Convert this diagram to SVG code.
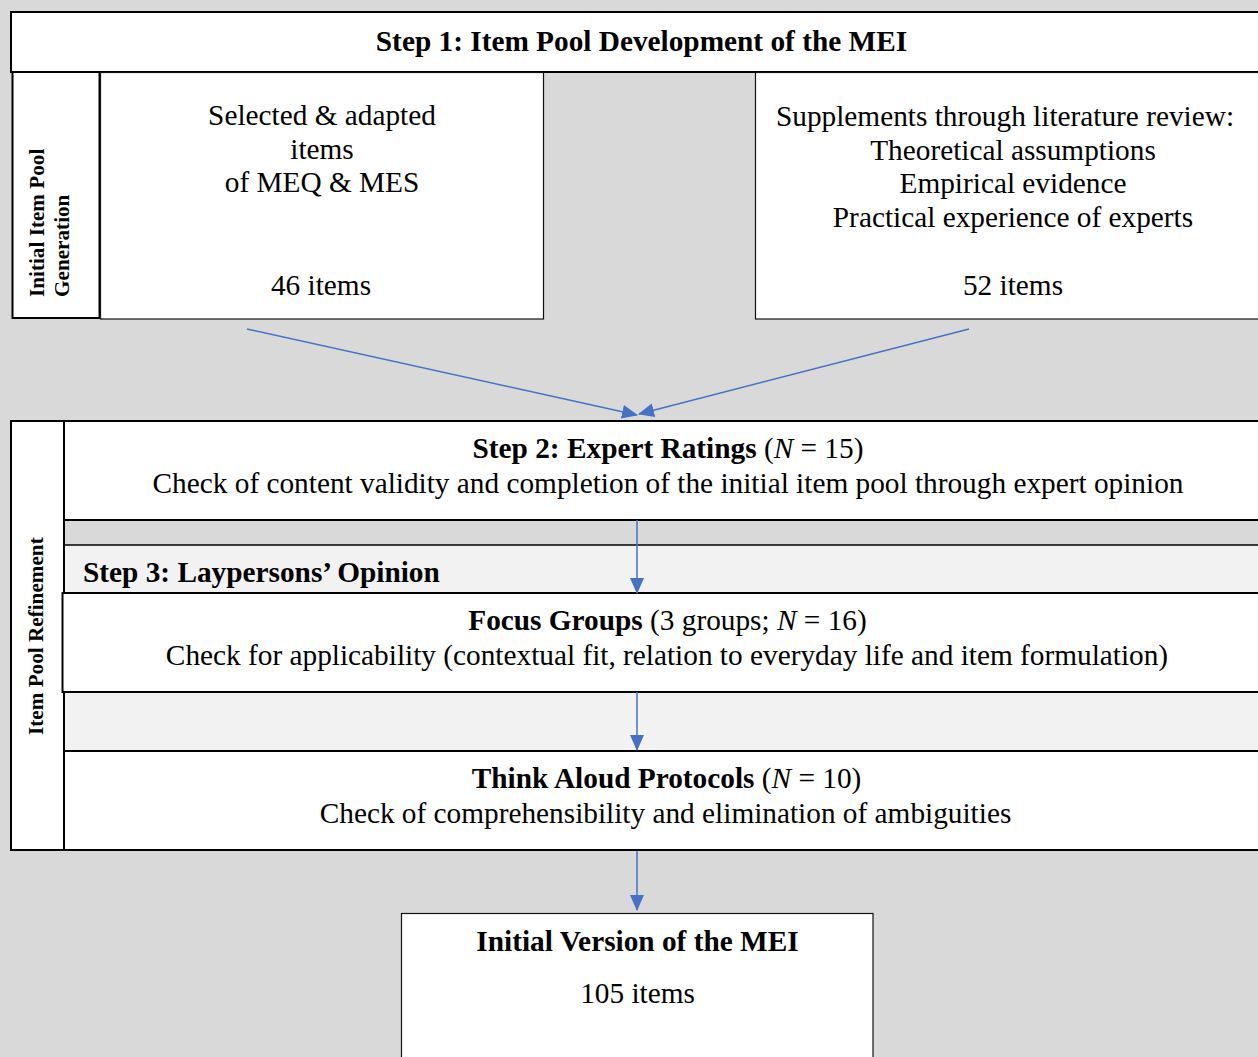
<svg xmlns="http://www.w3.org/2000/svg" width="1258" height="1057" viewBox="0 0 1258 1057">
<style>
text{font-family:"Liberation Serif","Times New Roman",serif;fill:#000}
.t{font-size:29.3px}
.c{text-anchor:middle}
.b{font-weight:bold}
.lab{font-size:21.2px;font-weight:bold}
.box{fill:#fff;stroke:#000;stroke-width:2}
.thin{fill:#fff;stroke:#111;stroke-width:1.2}
.ar{stroke:#4472c4;stroke-width:1.5;fill:none;marker-end:url(#ah)}
</style>
<defs>
<marker id="ah" markerUnits="userSpaceOnUse" markerWidth="16" markerHeight="16" viewBox="0 0 16 14" refX="15" refY="7" orient="auto">
<path d="M0,0 L16,7 L0,14 Z" fill="#4472c4"/>
</marker>
</defs>
<rect width="1258" height="1057" fill="#d9d9d9"/>

<g id="step1">
<rect class="box" x="11" y="12" width="1262" height="60"/>
<text class="t b c" x="641.5" y="51">Step 1: Item Pool Development of the MEI</text>
</g>

<g id="label-generation">
<rect class="box" x="12.5" y="72" width="87" height="246"/>
<text class="lab" transform="translate(44,297) rotate(-90)">Initial Item Pool</text>
<text class="lab" transform="translate(69,297) rotate(-90)">Generation</text>
</g>

<g id="box-meq">
<rect class="thin" x="100.5" y="72.5" width="443" height="246.5"/>
<text class="t c" x="322" y="125">Selected &amp; adapted</text>
<text class="t c" x="322" y="159">items</text>
<text class="t c" x="322" y="192">of MEQ &amp; MES</text>
<text class="t c" x="321" y="295">46 items</text>
</g>

<g id="box-literature">
<rect class="thin" x="755.5" y="72.5" width="520" height="246.5"/>
<text class="t c" x="1005" y="126">Supplements through literature review:</text>
<text class="t c" x="1013" y="160">Theoretical assumptions</text>
<text class="t c" x="1013" y="193">Empirical evidence</text>
<text class="t c" x="1013" y="227">Practical experience of experts</text>
<text class="t c" x="1013" y="295">52 items</text>
</g>

<g id="refinement">
<rect class="box" x="11" y="421" width="1262" height="429"/>
<rect x="64" y="520" width="1210" height="25" fill="#d9d9d9"/>
<rect x="64" y="545" width="1210" height="206" fill="#f2f2f2"/>
<line x1="64" y1="421" x2="64" y2="850" stroke="#000" stroke-width="2"/>
<line x1="64" y1="520" x2="1258" y2="520" stroke="#000" stroke-width="2"/>
<line x1="64" y1="545" x2="1258" y2="545" stroke="#000" stroke-width="1.5"/>
<line x1="64" y1="751" x2="1258" y2="751" stroke="#000" stroke-width="2"/>
<text class="lab" transform="translate(43,735) rotate(-90)">Item Pool Refinement</text>
</g>

<g id="step2">
<text class="t c" x="668" y="458"><tspan class="b">Step 2: Expert Ratings</tspan> (<tspan font-style="italic">N</tspan> = 15)</text>
<text class="t c" x="668" y="493">Check of content validity and completion of the initial item pool through expert opinion</text>
</g>

<g id="step3">
<text class="t b" x="83" y="582">Step 3: Laypersons’ Opinion</text>
</g>

<g id="focus-groups">
<rect class="box" x="62.5" y="593" width="1212" height="99"/>
<text class="t c" x="667.5" y="630"><tspan class="b">Focus Groups</tspan> (3 groups; <tspan font-style="italic">N</tspan> = 16)</text>
<text class="t c" x="667" y="665">Check for applicability (contextual fit, relation to everyday life and item formulation)</text>
</g>

<g id="think-aloud">
<text class="t c" x="666.5" y="788"><tspan class="b">Think Aloud Protocols</tspan> (<tspan font-style="italic">N</tspan> = 10)</text>
<text class="t c" x="665.5" y="823">Check of comprehensibility and elimination of ambiguities</text>
</g>

<g id="final">
<rect class="thin" x="401.5" y="913.5" width="471.5" height="160"/>
<text class="t b c" x="637.5" y="951">Initial Version of the MEI</text>
<text class="t c" x="637.5" y="1003">105 items</text>
</g>

<g id="connectors">
<line class="ar" x1="247" y1="329" x2="637" y2="415"/>
<line class="ar" x1="969" y1="329" x2="639" y2="414"/>
<line class="ar" x1="637" y1="520" x2="637" y2="593"/>
<line class="ar" x1="637" y1="692" x2="637" y2="750"/>
<line class="ar" x1="637" y1="851" x2="637" y2="910"/>
</g>
</svg>
